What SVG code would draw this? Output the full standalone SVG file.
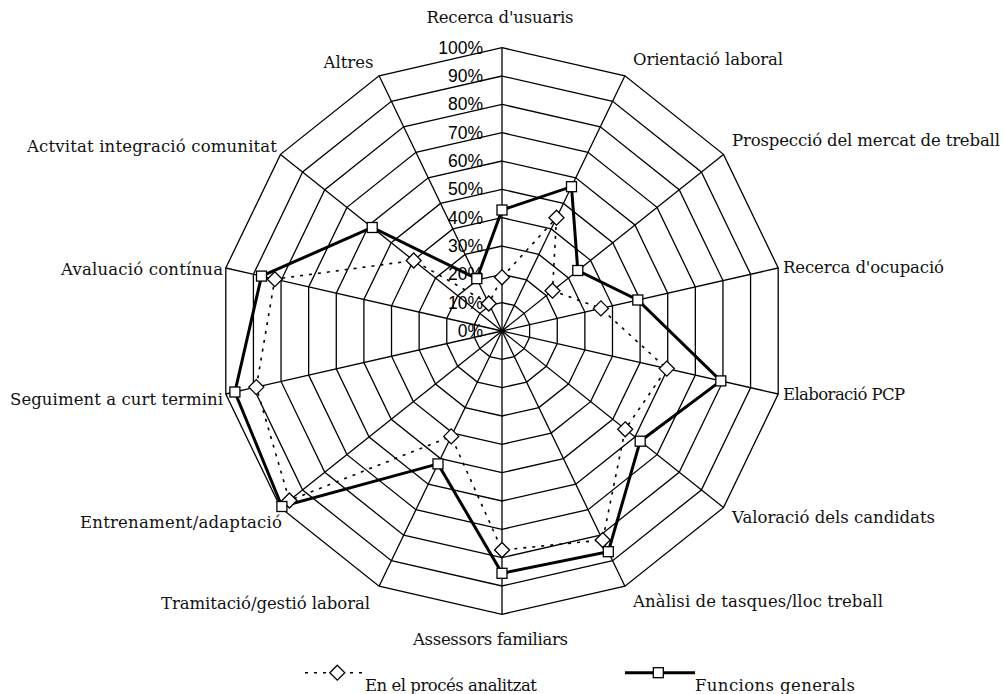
<svg xmlns="http://www.w3.org/2000/svg" xmlns:xlink="http://www.w3.org/1999/xlink" width="1004" height="694" viewBox="0 0 1004 694">
<style>
.ring{fill:none;stroke:#000;stroke-width:1.3;vector-effect:non-scaling-stroke}
.spoke{stroke:#000;stroke-width:1.3}
.pct{font-family:"Liberation Sans",Arial,sans-serif;font-size:17.5px;fill:#000;text-anchor:end}
.lab{font-family:"DejaVu Serif","Liberation Serif",serif;font-size:16.5px;fill:#111}
.s1{fill:none;stroke:#000;stroke-width:3;stroke-linejoin:miter}
.s2{fill:none;stroke:#000;stroke-width:1.6;stroke-dasharray:3 6}
.sq{fill:#fff;stroke:#000;stroke-width:1.3}
.dm{fill:#fff;stroke:#000;stroke-width:1.3}
</style>
<defs>
<polygon id="ring" class="ring" points="0,-100 43.388,-90.097 78.183,-62.349 97.493,-22.252 97.493,22.252 78.183,62.349 43.388,90.097 0,100 -43.388,90.097 -78.183,62.349 -97.493,22.252 -97.493,-22.252 -78.183,-62.349 -43.388,-90.097"/>
<rect id="sq" class="sq" x="-5" y="-5" width="10" height="10"/>
<path id="dm" class="dm" d="M0,-7.5 L7.5,0 L0,7.5 L-7.5,0 Z"/>
</defs>
<rect width="1004" height="694" fill="#fff"/>
<g id="grid" transform="translate(502 331)">
<use xlink:href="#ring" transform="scale(0.2833)"/>
<use xlink:href="#ring" transform="scale(0.5666)"/>
<use xlink:href="#ring" transform="scale(0.8499)"/>
<use xlink:href="#ring" transform="scale(1.1332)"/>
<use xlink:href="#ring" transform="scale(1.4165)"/>
<use xlink:href="#ring" transform="scale(1.6998)"/>
<use xlink:href="#ring" transform="scale(1.9831)"/>
<use xlink:href="#ring" transform="scale(2.2664)"/>
<use xlink:href="#ring" transform="scale(2.5497)"/>
<use xlink:href="#ring" transform="scale(2.833)"/>
<line class="spoke" x1="0" y1="0" x2="0" y2="-283.3"/>
<line class="spoke" x1="0" y1="0" x2="122.9" y2="-255.2"/>
<line class="spoke" x1="0" y1="0" x2="221.5" y2="-176.6"/>
<line class="spoke" x1="0" y1="0" x2="276.2" y2="-63.0"/>
<line class="spoke" x1="0" y1="0" x2="276.2" y2="63.0"/>
<line class="spoke" x1="0" y1="0" x2="221.5" y2="176.6"/>
<line class="spoke" x1="0" y1="0" x2="122.9" y2="255.2"/>
<line class="spoke" x1="0" y1="0" x2="0" y2="283.3"/>
<line class="spoke" x1="0" y1="0" x2="-122.9" y2="255.2"/>
<line class="spoke" x1="0" y1="0" x2="-221.5" y2="176.6"/>
<line class="spoke" x1="0" y1="0" x2="-276.2" y2="63.0"/>
<line class="spoke" x1="0" y1="0" x2="-276.2" y2="-63.0"/>
<line class="spoke" x1="0" y1="0" x2="-221.5" y2="-176.6"/>
<line class="spoke" x1="0" y1="0" x2="-122.9" y2="-255.2"/>
</g>
<g id="scale">
<text class="pct" x="483" y="337">0%</text>
<text class="pct" x="483" y="308.7">10%</text>
<text class="pct" x="483" y="280.3">20%</text>
<text class="pct" x="483" y="252">30%</text>
<text class="pct" x="483" y="223.7">40%</text>
<text class="pct" x="483" y="195.4">50%</text>
<text class="pct" x="483" y="167">60%</text>
<text class="pct" x="483" y="138.7">70%</text>
<text class="pct" x="483" y="110.4">80%</text>
<text class="pct" x="483" y="82">90%</text>
<text class="pct" x="483" y="53.7">100%</text>
</g>
<g id="connectors">
<polygon id="serie-proces" class="s2" points="502,277.3 556.5,217.7 552.5,290.7 600.9,308.4 666.8,368.6 625.2,429.3 602.7,540 502,550 451.2,436.4 289.4,500.5 256.3,387.1 274.8,279.2 413.7,260.5 488.8,303.5"/>
<polygon id="serie-funcions" class="s1" points="502,210 571.5,186.7 577.8,270.5 637.8,300 720.8,380.9 640.2,441.2 608.3,551.7 502,573.3 438,463.9 281.9,506.5 234.9,392 261.5,276.1 372.2,227.5 476.8,278.7"/>
</g>
<g id="markers-proces">
<use xlink:href="#dm" x="502" y="277.3"/>
<use xlink:href="#dm" x="556.5" y="217.7"/>
<use xlink:href="#dm" x="552.5" y="290.7"/>
<use xlink:href="#dm" x="600.9" y="308.4"/>
<use xlink:href="#dm" x="666.8" y="368.6"/>
<use xlink:href="#dm" x="625.2" y="429.3"/>
<use xlink:href="#dm" x="602.7" y="540"/>
<use xlink:href="#dm" x="502" y="550"/>
<use xlink:href="#dm" x="451.2" y="436.4"/>
<use xlink:href="#dm" x="289.4" y="500.5"/>
<use xlink:href="#dm" x="256.3" y="387.1"/>
<use xlink:href="#dm" x="274.8" y="279.2"/>
<use xlink:href="#dm" x="413.7" y="260.5"/>
<use xlink:href="#dm" x="488.8" y="303.5"/>
</g>
<g id="markers-funcions">
<use xlink:href="#sq" x="502" y="210"/>
<use xlink:href="#sq" x="571.5" y="186.7"/>
<use xlink:href="#sq" x="577.8" y="270.5"/>
<use xlink:href="#sq" x="637.8" y="300"/>
<use xlink:href="#sq" x="720.8" y="380.9"/>
<use xlink:href="#sq" x="640.2" y="441.2"/>
<use xlink:href="#sq" x="608.3" y="551.7"/>
<use xlink:href="#sq" x="502" y="573.3"/>
<use xlink:href="#sq" x="438" y="463.9"/>
<use xlink:href="#sq" x="281.9" y="506.5"/>
<use xlink:href="#sq" x="234.9" y="392"/>
<use xlink:href="#sq" x="261.5" y="276.1"/>
<use xlink:href="#sq" x="372.2" y="227.5"/>
<use xlink:href="#sq" x="476.8" y="278.7"/>
</g>
<g id="labels">
<text id="l0" class="lab" x="426.5" y="22.7" textLength="147">Recerca d'usuaris</text>
<text id="l1" class="lab" x="633" y="65" textLength="150">Orientació laboral</text>
<text id="l2" class="lab" x="732" y="146" textLength="268">Prospecció del mercat de treball</text>
<text id="l3" class="lab" x="783" y="273" textLength="161">Recerca d'ocupació</text>
<text id="l4" class="lab" x="783" y="400" textLength="122">Elaboració PCP</text>
<text id="l5" class="lab" x="732" y="523" textLength="203">Valoració dels candidats</text>
<text id="l6" class="lab" x="633" y="607" textLength="250">Anàlisi de tasques/lloc treball</text>
<text id="l7" class="lab" x="413" y="645" textLength="155">Assessors familiars</text>
<text id="l8" class="lab" x="161" y="609" textLength="209">Tramitació/gestió laboral</text>
<text id="l9" class="lab" x="80" y="528" textLength="202">Entrenament/adaptació</text>
<text id="l10" class="lab" x="10" y="405" textLength="213">Seguiment a curt termini</text>
<text id="l11" class="lab" x="61" y="275" textLength="162">Avaluació contínua</text>
<text id="l12" class="lab" x="27" y="152" textLength="250">Actvitat integració comunitat</text>
<text id="l13" class="lab" x="323.5" y="68.3" textLength="50">Altres</text>
</g>
<g id="legend">
<line class="s2" x1="305" y1="672.7" x2="365" y2="672.7"/>
<use xlink:href="#dm" x="337.3" y="672.7"/>
<text class="lab" x="365" y="690.5" textLength="172">En el procés analitzat</text>
<line class="s1" x1="625" y1="672.7" x2="695" y2="672.7"/>
<use xlink:href="#sq" x="658.3" y="672.7"/>
<text class="lab" x="695" y="690.5" textLength="160">Funcions generals</text>
</g>
</svg>
